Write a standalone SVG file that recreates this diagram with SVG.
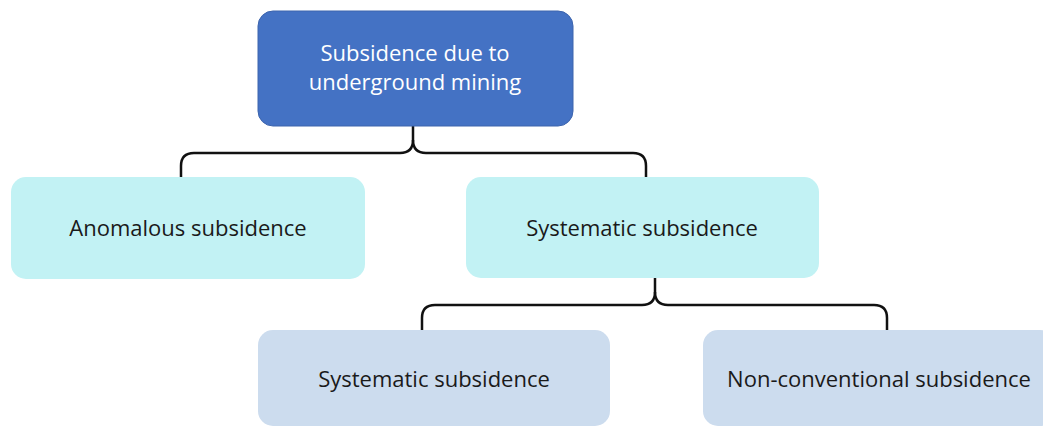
<svg xmlns="http://www.w3.org/2000/svg" width="1043" height="427" viewBox="0 0 1043 427">
<style>
.t{font-family:"Open Sans","Noto Sans",sans-serif;font-size:22px;text-anchor:middle;fill:#1a1a1a}
.tw{fill:#ffffff}
.c{fill:none;stroke:#111;stroke-width:2.5;stroke-linejoin:round}
.l1{fill:#c2f2f4}
.l2{fill:#ccdcee}
</style>
<rect width="1043" height="427" fill="#ffffff"/>
<g id="connectors">
<path class="c" d="M413,126 V140 Q413,153 400,153 H194 Q181,153 181,166 V177"/>
<path class="c" d="M413,140 Q413,153 426,153 H633 Q646,153 646,166 V177"/>
<path class="c" d="M655,278 V292 Q655,305 642,305 H435 Q422,305 422,318 V330"/>
<path class="c" d="M655,292 Q655,305 668,305 H874 Q887,305 887,318 V330"/>
</g>
<g id="root">
<rect x="258" y="11" width="315" height="115" rx="15" fill="#4472c4" stroke="#3c64ad" stroke-width="1"/>
<text class="t tw" x="415" y="61">Subsidence due to</text>
<text class="t tw" x="415" y="90">underground mining</text>
</g>
<g id="anomalous">
<rect class="l1" x="11" y="177" width="354" height="102" rx="15"/>
<text class="t" x="188" y="236">Anomalous subsidence</text>
</g>
<g id="systematic">
<rect class="l1" x="466" y="177" width="353" height="101" rx="15"/>
<text class="t" x="642" y="236">Systematic subsidence</text>
</g>
<g id="systematic2">
<rect class="l2" x="258" y="330" width="352" height="96" rx="15"/>
<text class="t" x="434" y="387">Systematic subsidence</text>
</g>
<g id="nonconventional">
<rect class="l2" x="703" y="330" width="352" height="96" rx="15"/>
<text class="t" x="879" y="387">Non-conventional subsidence</text>
</g>
</svg>
